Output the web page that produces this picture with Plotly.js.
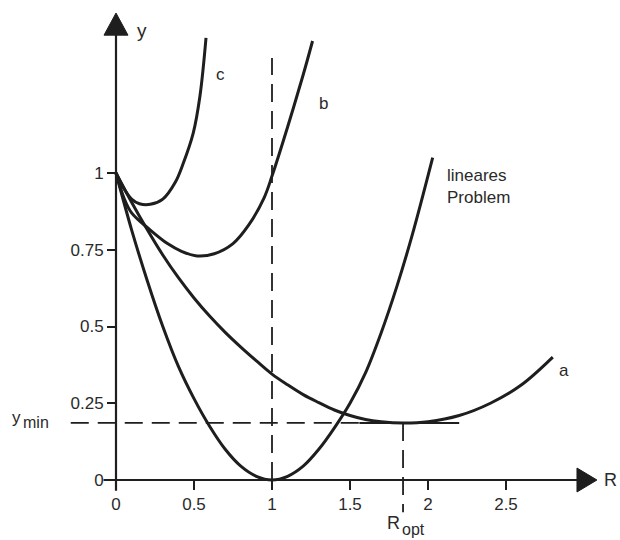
<!DOCTYPE html>
<html>
<head>
<meta charset="utf-8">
<script src="https://cdn.plot.ly/plotly-3.0.1.min.js"></script>
<style>html,body{margin:0;padding:0;background:#fff;}#chart{width:620px;height:540px;}</style>
</head>
<body>
<div id="chart"></div>
<script>
// ---- data ----
var linR = [0, 0.1, 0.2, 0.3, 0.4, 0.5, 0.6, 0.7, 0.8, 0.9, 1.0, 1.1, 1.2, 1.3, 1.4, 1.5, 1.6, 1.7, 1.8, 1.9, 2.03];
var linY = [1.0, 0.815, 0.65, 0.50, 0.37, 0.265, 0.175, 0.10, 0.045, 0.012, 0.0, 0.012, 0.045, 0.10, 0.17, 0.25, 0.35, 0.48, 0.63, 0.80, 1.05];

var aR = [0, 0.1, 0.2, 0.3, 0.4, 0.5, 0.6, 0.7, 0.8, 0.9, 1.0, 1.1, 1.2, 1.3, 1.4, 1.5, 1.6, 1.7, 1.84, 2.0, 2.2, 2.4, 2.6, 2.8];
var aY = [1.0, 0.905, 0.816, 0.733, 0.659, 0.593, 0.534, 0.481, 0.433, 0.388, 0.345, 0.31, 0.278, 0.252, 0.228, 0.21, 0.197, 0.19, 0.186, 0.19, 0.21, 0.25, 0.31, 0.40];

var bR = [0, 0.05, 0.1, 0.22, 0.33, 0.42, 0.52, 0.63, 0.75, 0.85, 0.95, 1.0, 1.1, 1.2, 1.26];
var bY = [1.0, 0.92, 0.87, 0.814, 0.77, 0.745, 0.73, 0.737, 0.77, 0.83, 0.92, 0.99, 1.15, 1.32, 1.43];

var cR = [0, 0.05, 0.1, 0.15, 0.22, 0.3, 0.38, 0.43, 0.495, 0.538, 0.577];
var cY = [1.0, 0.95, 0.915, 0.90, 0.898, 0.915, 0.97, 1.03, 1.13, 1.25, 1.44];

var xTickVals = [0, 0.5, 1, 1.5, 2, 2.5];
var xTickText = ["0", "0.5", "1", "1.5", "2", "2.5"];
var yTickVals = [0, 0.25, 0.5, 0.75, 1];
var yTickText = ["0", "0.25", "0.5", "0.75", "1"];

var yMin = 0.186;   // minimum of curve a
var rOpt = 1.84;    // position of that minimum

// ---- styling ----
var ink = '#1e1e1e';
var txt = '#2a2a2a';
var font = 'Liberation Sans, Arial, sans-serif';

var xRange = [-116/156, (620-116)/156];
var yRange = [(480-540)/307, 480/307];
var xPos = (0 - yRange[0]) / (yRange[1] - yRange[0]);
var yPos = (0 - xRange[0]) / (xRange[1] - xRange[0]);

function curve(x, y) {
  return {x: x, y: y, mode: 'lines', type: 'scatter', hoverinfo: 'skip',
          line: {color: ink, width: 3, shape: 'spline', smoothing: 1}};
}

var traces = [curve(linR, linY), curve(aR, aY), curve(bR, bY), curve(cR, cY)];

var dash = {color: ink, width: 1.8, dash: '18px,9px'};
var shapes = [
  // axes
  {type: 'line', xref: 'x', yref: 'y', x0: -0.08, y0: 0, x1: 2.96, y1: 0, line: {color: ink, width: 2.2}},
  {type: 'line', xref: 'x', yref: 'y', x0: 0, y0: -0.035, x1: 0, y1: 1.45, line: {color: ink, width: 2.2}},
  {type: 'path', xref: 'x', yref: 'y', path: 'M 3.083 0 L 2.955 0.039 L 2.955 -0.039 Z', fillcolor: ink, line: {color: ink, width: 1}},
  {type: 'path', xref: 'x', yref: 'y', path: 'M 0 1.521 L -0.077 1.449 L 0.077 1.449 Z', fillcolor: ink, line: {color: ink, width: 1}},
  // dashed guides
  {type: 'line', xref: 'x', yref: 'y', x0: 1, y0: 0, x1: 1, y1: 1.375, line: dash},
  {type: 'line', xref: 'x', yref: 'y', x0: -0.29, y0: yMin, x1: 1.56, y1: yMin, line: dash},
  {type: 'line', xref: 'x', yref: 'y', x0: rOpt, y0: yMin, x1: rOpt, y1: -0.105, line: dash},
  // tangent at the minimum
  {type: 'line', xref: 'x', yref: 'y', x0: 1.56, y0: yMin, x1: 2.2, y1: yMin, line: {color: ink, width: 2}}
];

function lab(x, y, t, size, xa) {
  return {x: x, y: y, xref: 'x', yref: 'y', text: t, showarrow: false,
          xanchor: xa || 'center', yanchor: 'middle', align: 'left',
          font: {family: font, size: size || 17, color: txt}};
}

var annotations = [
  lab(0.167, 1.465, 'y', 19),
  lab(3.225, 0.0, 'R', 18, 'right'),
  lab(0.667, 1.322, 'c', 17),
  lab(1.327, 1.225, 'b', 17),
  lab(2.872, 0.358, 'a', 17),
  lab(2.11, 0.955, 'lineares<br>Problem', 17, 'left'),
  lab(-0.635, 0.202, 'y', 17),
  lab(-0.513, 0.186, 'min', 16),
  lab(1.776, -0.140, 'R', 18),
  lab(1.910, -0.162, 'opt', 16)
];

var layout = {
  width: 620, height: 540,
  margin: {l: 0, r: 0, t: 0, b: 0},
  paper_bgcolor: '#fff', plot_bgcolor: '#fff',
  showlegend: false,
  xaxis: {range: xRange, anchor: 'free', position: xPos, showgrid: false, zeroline: false, showline: false,
          tickvals: xTickVals, ticktext: xTickText, ticks: 'outside', ticklen: 9, tickwidth: 2, tickcolor: ink,
          tickfont: {family: font, size: 17, color: txt}, fixedrange: true},
  yaxis: {range: yRange, anchor: 'free', position: yPos, showgrid: false, zeroline: false, showline: false,
          tickvals: yTickVals, ticktext: yTickText, ticks: 'outside', ticklen: 9, tickwidth: 2, tickcolor: ink,
          tickfont: {family: font, size: 17, color: txt}, fixedrange: true},
  shapes: shapes,
  annotations: annotations
};

Plotly.newPlot('chart', traces, layout, {displayModeBar: false, staticPlot: true});
</script>
</body>
</html>
